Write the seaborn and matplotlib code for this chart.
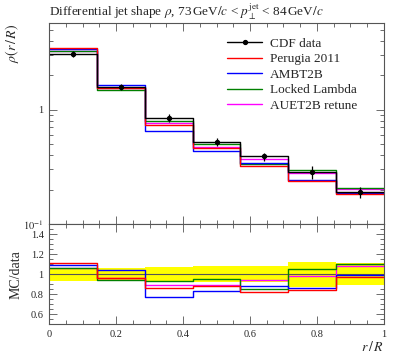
import numpy as np
import pandas as pd
import matplotlib
matplotlib.use("Agg")
import matplotlib.pyplot as plt
from matplotlib.ticker import FixedLocator, MultipleLocator, NullFormatter
from matplotlib.lines import Line2D
import seaborn as sns

# Data
edges = [0, 1/7, 2/7, 3/7, 4/7, 5/7, 6/7, 1.0]
data_vals = [3.08, 1.59, 0.85, 0.525, 0.39, 0.284, 0.189]
data_relerr = [0.065, 0.06, 0.075, 0.08, 0.08, 0.125, 0.11]
perugia = [3.42, 1.53, 0.731, 0.462, 0.320, 0.239, 0.183]
ambt2b = [3.36, 1.65, 0.655, 0.436, 0.343, 0.244, 0.187]
locked = [3.26, 1.49, 0.791, 0.499, 0.332, 0.298, 0.208]
auet2b = [3.26, 1.53, 0.757, 0.467, 0.367, 0.278, 0.204]

names = ["CDF data", "Perugia 2011", "AMBT2B", "Locked Lambda", "AUET2B retune"]
colors = ["black", "red", "blue", "#008000", "magenta"]

sns.set_theme(style="ticks")
plt.rcParams['font.family'] = ['Liberation Serif', 'DejaVu Serif']
plt.rcParams['mathtext.fontset'] = 'stix'

edges = np.array(edges)
data_vals = np.array(data_vals)
centers = 0.5 * (edges[:-1] + edges[1:])

# long table for stepped histograms
rows = []
for name, vals in zip(names, [data_vals, perugia, ambt2b, locked, auet2b]):
    v = np.append(vals, vals[-1])
    r = v / np.append(data_vals, data_vals[-1])
    for x, y, rr in zip(edges, v, r):
        rows.append({"x": x, "y": y, "ratio": rr, "model": name})
df = pd.DataFrame(rows)

fig = plt.figure(figsize=(3.97, 3.58), dpi=100)
ax = fig.add_axes([0.1242, 0.3743, 0.8423, 0.5607])
rax = fig.add_axes([0.1242, 0.0941, 0.8423, 0.2802], sharex=ax)

pal = dict(zip(names, colors))
sns.lineplot(data=df, x="x", y="y", hue="model", palette=pal, hue_order=names[::-1],
             drawstyle="steps-post", estimator=None, sort=False, lw=1.0,
             ax=ax, legend=False)
ax.errorbar(centers, data_vals, yerr=data_vals * np.array(data_relerr), fmt="o",
            color="black", ms=2.8, lw=0.9, capsize=0, zorder=5)

ax.set_yscale("log")
ax.set_xlim(0, 1)
ax.set_ylim(0.1, 5.68)
ax.set_yticks([0.1, 1])
ax.set_yticklabels([r"$10^{-1}$", "1"], fontsize=7.5)
ax.yaxis.set_minor_locator(FixedLocator(list(np.arange(0.2, 1.0, 0.1)) + list(np.arange(2, 6, 1))))
ax.yaxis.set_minor_formatter(NullFormatter())
ax.tick_params(axis="x", labelbottom=False)
ax.set_xlabel("")
ax.set_ylabel(r"$\rho(r\,/\,R)$", fontsize=10, loc="top", labelpad=2)
ax.set_title(r"Differential jet shape $\rho$, 73$\,$GeV$/c$ < $p_\perp^{\rm jet}$ < 84$\,$GeV$/c$",
             fontsize=9.5, loc="left", pad=5)

# legend
handles = [Line2D([], [], color="black", lw=1.0, marker="o", ms=2.8)]
handles += [Line2D([], [], color=c, lw=1.0) for c in colors[1:]]
ax.legend(handles, names, loc="upper left", bbox_to_anchor=(0.515, 0.955), frameon=False,
          fontsize=9.5, handlelength=2.7, handletextpad=0.6, labelspacing=0.25, borderaxespad=0.0)

# ratio panel
band_lo = 1 - np.array(data_relerr)
band_hi = 1 + np.array(data_relerr)
rax.fill_between(edges, np.append(band_lo, band_lo[-1]), np.append(band_hi, band_hi[-1]),
                 step="post", color="yellow", lw=0, zorder=1)
rax.axhline(1.0, color="#555555", lw=0.8, zorder=2)
sns.lineplot(data=df[df["model"] != "CDF data"], x="x", y="ratio", hue="model", palette=pal,
             hue_order=names[1:][::-1], drawstyle="steps-post", estimator=None, sort=False,
             lw=1.0, ax=rax, legend=False)
rax.set_ylim(0.5, 1.5)
rax.set_yticks([0.6, 0.8, 1.0, 1.2, 1.4])
rax.set_yticklabels(["0.6", "0.8", "1", "1.2", "1.4"], fontsize=7.5)
rax.yaxis.set_minor_locator(MultipleLocator(0.05))
rax.set_xticks([0, 0.2, 0.4, 0.6, 0.8, 1.0])
rax.set_xticklabels(["0", "0.2", "0.4", "0.6", "0.8", "1"], fontsize=7.5)
rax.xaxis.set_minor_locator(MultipleLocator(0.05))
rax.set_ylabel("MC/data", fontsize=10, labelpad=6)
rax.set_xlabel(r"$r\,/\,R$", fontsize=10, loc="right", labelpad=1)

for a in (ax, rax):
    for s in a.spines.values():
        s.set_color("#555555")
        s.set_linewidth(0.8)
    a.tick_params(which="both", direction="in", top=True, right=True, color="#555555", width=0.6)
    a.tick_params(which="major", length=6, pad=4)
    a.tick_params(which="minor", length=3)

fig.savefig("out.png", dpi=100)
